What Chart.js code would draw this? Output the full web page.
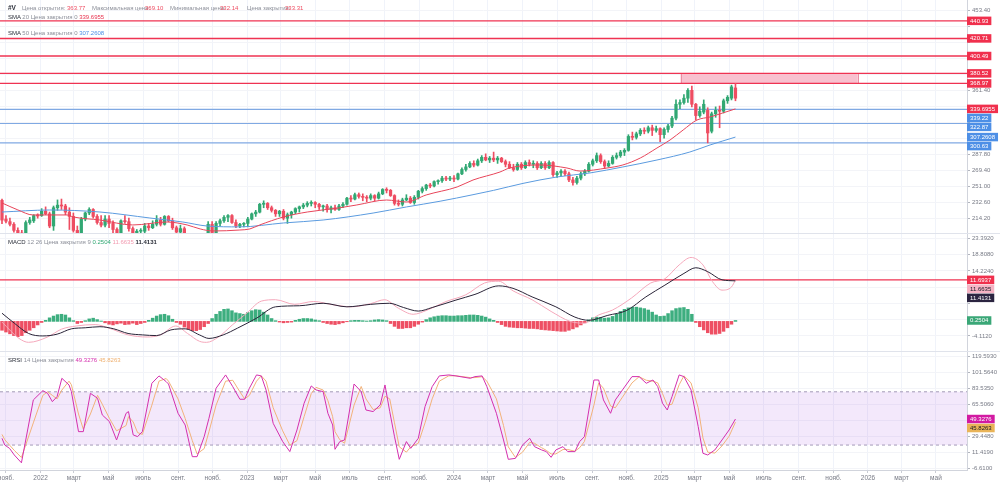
<!DOCTYPE html>
<html><head><meta charset="utf-8">
<script src="https://cdn.jsdelivr.net/npm/chart.js@4.4.1/dist/chart.umd.min.js"></script>
<style>
html,body{margin:0;padding:0;background:#fff;width:1000px;height:483px;overflow:hidden;font-family:"Liberation Sans",Arial,sans-serif;}
.pane{position:absolute;left:0;width:1000px;}
canvas{display:block;}
.lg{position:absolute;font-size:6px;color:#8c8f99;white-space:pre;line-height:8px;}
.dk{color:#2a2e39;}
.sep{position:absolute;left:0;width:1000px;height:1px;background:#e0e3eb;}
</style></head><body>
<div class="pane" style="top:0;height:233px"><canvas id="c1" width="1000" height="233"></canvas></div>
<div class="pane" style="top:233px;height:118px"><canvas id="c2" width="1000" height="118"></canvas></div>
<div class="pane" style="top:351px;height:132px"><canvas id="c3" width="1000" height="132"></canvas></div>
<div class="sep" style="top:233px"></div>
<div class="sep" style="top:351px"></div>

<div class="lg dk" style="top:4px;left:8px;font-weight:bold;font-size:6.5px">#V</div>
<div class="lg" style="top:4px;left:22px">Цена открытия:</div><div class="lg" style="top:4px;left:67px;color:#ee4d62">363.77</div>
<div class="lg" style="top:4px;left:92px">Максимальная цена:</div><div class="lg" style="top:4px;left:145px;color:#ee4d62">369.10</div>
<div class="lg" style="top:4px;left:170px">Минимальная цена:</div><div class="lg" style="top:4px;left:220px;color:#ee4d62">332.14</div>
<div class="lg" style="top:4px;left:247px">Цена закрытия:</div><div class="lg" style="top:4px;left:285px;color:#ee4d62">333.31</div>
<div class="lg" style="top:13px;left:8px"><span class="dk">SMA</span> 20 Цена закрытия 0 <span style="color:#e8334f">339.6955</span></div>
<div class="lg" style="top:29px;left:8px"><span class="dk">SMA</span> 50 Цена закрытия 0 <span style="color:#4d8fe6">307.2608</span></div>
<div class="lg" style="top:238px;left:8px"><span class="dk">MACD</span> 12 26 Цена закрытия 9 <span style="color:#31a873">0.2504</span> <span style="color:#f29ab0">11.6635</span> <span class="dk" style="font-weight:bold">11.4131</span></div>
<div class="lg" style="top:356px;left:8px"><span class="dk">SRSI</span> 14 Цена закрытия <span style="color:#d42fae">49.3276</span> <span style="color:#efb070">45.8263</span></div>

<script>
// ---------- DATA ----------
const firstWeek = '2021-10-25';   // week index 0 (weekly candles)
const opens = [
234.5,213,210,207,200,197,193,209,211,217,
217,222,219,205,226,229,228,221,216,200,
194,213,220,224,216,209,206,213,208,201,
196,211,210,202,190,199,199,205,203,207,
212,207,216,211,203,198,202,190,182,178,
180,175,190,207,193,208,211,215,217,209,
205,207,208,213,219,221,230,231,226,223,
219,222,214,218,221,225,227,229,231,232,
230,227,228,224,226,224,228,230,237,236,
241,239,238,237,240,237,242,247,246,240,
231,230,235,237,232,238,245,248,252,251,
256,257,260,259,260,259,265,270,273,277,
275,280,284,281,283,281,283,279,276,272,
270,276,272,278,276,277,272,277,272,278,
264,266,268,265,258,255,260,265,268,276,
280,286,279,274,277,284,286,290,292,308,
307,311,315,314,318,315,317,310,316,320,
329,345,347,352,361,345,332,336,338,314,
334,338,337,349,352,363.77];
const highs = [
236,217,214,209,203,200,211,215,218,219,
225,227,221,228,235,236,230,226,220,205,
215,221,226,225,218,217,217,217,211,203,
212,217,214,204,201,202,208,208,211,217,
215,217,217,214,205,206,204,192,186,188,
183,191,210,210,210,213,217,218,218,212,
208,209,215,220,223,231,234,232,228,224,
223,224,220,222,226,228,231,233,234,233,
231,229,230,228,229,230,232,238,240,243,
243,242,240,242,241,244,248,249,247,241,
235,237,241,239,240,246,250,253,254,257,
258,262,262,262,263,266,272,276,279,280,
282,286,288,285,290,285,284,281,279,276,
278,278,280,281,280,279,279,279,280,279,
268,270,270,267,261,262,267,270,278,282,
289,288,281,280,286,289,292,294,310,313,
313,317,318,320,321,320,318,318,322,331,
350,350,356,363,366,346,342,350,341,336,
342,343,351,355,367,369.1];
const lows = [
207.6,208.5,205,198,194,186,192,207,209,214,
216,218,203,200,223,224,218,201,198,186,
193,211,218,214,207,204,204,203,190,185,
194,208,199,186,188,193,197,200,202,205,
205,206,210,201,196,196,188,180,177,176,
174,174,187,191,190,205,209,210,208,203,
203,204,204,212,216,220,226,224,221,216,
216,212,208,214,219,221,225,227,228,226,
224,222,221,220,223,223,226,229,233,235,
237,234,233,235,234,236,241,243,239,229,
228,228,234,231,230,236,243,246,249,250,
253,255,257,257,256,258,264,268,272,273,
274,278,280,278,279,277,278,273,271,268,
269,270,271,274,272,270,271,270,271,262,
261,263,263,256,252,253,258,263,267,274,
278,277,271,273,276,282,284,286,291,304,
305,309,311,312,309,313,302,306,313,318,
327,340,345,347,342,327,330,334,300.6,312,
330,318,335,346,350,349];
const closes = [
211.8,210.5,207,200,196,192,209,212,217,216.5,
222,219,205,226,229,228,221,216,200,194,
213,220,224,216,209,206,213,208,201,196,
211,210,202,190,199,199.5,205,203,207,212,
207,216,211,203,198,202,190,182,178,180,
175,190,207,193,208,211,215,217,209,205,
207,207.8,213,219,221,230,231,226,223,219,
222,214,218,221,225,227,229,231,232,230,
227,228,224,226,224,228,230,237,236,241,
239,238,237,240,237,242,247,246,240,231,
230,235,237,232,238,245,248,252,251,256,
257,260,259,260,259,265,270,273,277,275,
280,284,281,283,281,283,279,276,272,270,
276,272,278,276,277,272,277,272,278,264,
266,268,265,258,255,260,265,268,276,280,
286,279,274,277,284,286,290,292,308,307,
311,315,314,318,315,317,310,316,320,329,
345,347,352,361,345,332,337,345,312,334,
338,337,349,353,365,352];

const sma20Weeks = [0,4,7.8,12,16.4,18,24.7,33,41.6,46.7,50,53.2,60,62.5,65,71,77,85,89.5,97,102,107,114.8,118.8,125.6,128,135.7,142.5,145.8,152.6,156.6,161,165.2,168.5,171.8,175.3,178.6,181.8,185];
const sma20 = [231.5,223.5,217.7,217.7,217.7,215.4,211.9,206.2,209.6,206.2,201.6,199.3,200.4,201.6,206.2,215.4,221.1,225.8,229.2,234.9,232.6,240.7,249.9,257.9,267.1,271.7,275.2,271.7,268.2,271.7,275.2,283.2,294.7,303.9,315.4,326.9,330.4,335,339.6955];
const sma50Weeks = [0,12,24.7,37.3,45.6,51.7,60,71,81,93.6,102,110.5,118.8,124,131.4,140,148.3,156.6,165.2,173.5,178.6,185];
const sma50 = [221.1,223.4,221.1,214.2,209.6,205.0,204.0,208.5,211.9,219.9,226.9,233.5,241,246,254,261.4,266,272.9,280.9,290.1,298.2,307.2608];

const redLevels = [440.93,420.71,400.49,380.52,368.97];
const blueLevels = [339.22,322.87,300.63];
const zoneFrom = '2025-02-04', zoneTo = '2025-12-14', zoneLow = 368.97, zoneHigh = 380.52;

const macdHist = [
-2.5,-3.0,-3.5,-4.0,-4.3,-4.0,-3.2,-2.5,-1.8,-1.0,
-0.3,0.3,1.0,1.5,1.9,2.0,1.8,1.0,0.2,-0.6,
-0.3,0.2,0.7,0.9,0.5,0.1,-0.4,-0.8,-1.0,-0.7,
-0.5,-0.9,-0.8,-0.5,-0.9,-0.6,-0.3,0.3,0.9,1.5,
1.9,2.0,1.6,0.6,-0.3,-0.8,-1.6,-2.2,-2.6,-2.6,
-2.3,-1.5,-0.6,0.8,2.0,2.8,3.4,3.5,3.0,2.4,
2.2,2.0,2.5,3.0,3.3,3.2,2.6,1.8,0.8,0.2,
-0.2,-0.4,-0.3,-0.2,0.3,0.6,0.8,0.8,0.7,0.4,
0.2,-0.3,-0.6,-0.8,-0.9,-0.7,-0.4,-0.1,0.2,0.3,
0.3,0.2,0.1,0.2,0.4,0.5,0.4,0.2,-0.6,-1.4,
-2.0,-2.0,-1.8,-1.8,-1.4,-0.8,-0.2,0.5,1.0,1.3,
1.5,1.6,1.6,1.5,1.5,1.6,1.6,1.7,1.8,1.8,
1.7,1.5,1.2,0.7,0.3,-0.3,-0.9,-1.4,-1.6,-1.7,
-1.8,-1.8,-1.9,-2.0,-2.0,-2.1,-2.3,-2.4,-2.5,-2.6,
-2.7,-2.8,-2.8,-2.5,-2.1,-1.6,-1.0,-0.4,0.4,1.0,
1.2,1.1,0.9,1.0,1.4,2.0,2.8,3.4,3.8,4.0,
4.0,3.8,3.6,3.2,2.6,1.8,1.4,1.5,2.2,3.0,
3.6,3.8,3.9,3.4,2.0,-0.3,-1.5,-2.4,-3.2,-3.6,
-3.6,-3.4,-2.8,-1.8,-0.8,0.2504];
const macdWeeks = [0,4.3,6.7,11.5,15,18.7,23.5,27,31.8,36.6,40,43.8,46.8,49.8,51.6,54.6,58.2,61.8,65.4,69,73.8,78.6,83.4,88.1,93,96.5,100,103.7,107.3,112,117,121.7,125.3,128.9,133.7,138.5,143.3,146.8,150.5,154,158.8,163.6,167.2,170.8,173.8,176.8,179.2,181.6,184,185];
const macdLine = [-0.2,-4.8,-5.9,-4.4,-2.2,-1.3,-0.9,-1.9,-3.8,-4.4,-3.8,-1.3,-3.4,-5.6,-5.9,-4.4,-0.9,2.4,5.7,6.1,4.8,5.6,4.7,4.1,5.0,6.1,3.7,2.0,3.2,5.6,7.5,10.8,11.3,8.6,6.1,2.8,0,-0.5,1.8,3.2,6.6,10.8,12,15.9,18.0,15.9,11.2,8.8,9.7,11.6635];
const signalWeeks = [0,3.1,6.7,10.3,13.9,17.5,21,24.7,28.2,31.8,35.4,39,42.6,46.2,49.8,52.2,55.8,59.4,64.2,69,75,81,87,93,97.7,101.3,105,108.5,114.5,119.3,125.3,128.9,133.7,139.7,144.5,148,152.8,157.6,162.4,167.2,172,175,178,181.6,185];
const signalLine = [2.3,-0.5,-3.4,-4.1,-3.6,-2.1,-1.8,-1.5,-2.1,-3.4,-3.8,-4.0,-2.4,-2.1,-3.8,-4.8,-3.8,-1.9,0.9,4.1,4.4,5.1,4.1,4.8,5.1,3.9,2.9,3.9,6.0,7.6,10.0,9.3,6.9,4.1,1.2,0.3,1.7,3.1,6.9,10.2,13.5,15.1,14.0,11.7,11.4131];
const macdLevel = 11.6937;

const srsiWeeks = [
0,0.7,1.9,3.1,4.9,7.9,10.3,11.5,12.7,13.9,
15.1,16.9,17.5,19.3,20.5,22.3,24.1,25.3,27.1,28.9,
31.3,31.9,33.1,34.2,35.4,37.8,39.6,41.4,42,44.4,
46.2,48,49.2,51,52.2,54,56.4,58.2,60,61.2,
62.4,64.2,65.4,66.6,68.4,70.8,72.6,74.4,76.2,78,
79.2,81,82.2,83.4,84,85.2,86.4,88.8,90.6,91.8,
93.6,95.4,96.6,97.8,99,100.2,102,103.1,105,106.7,
108.5,110.3,112.7,114.5,118.1,119.3,121.1,122.3,124.7,126.5,
127.7,129.5,131.3,133.1,134.3,136.1,137.3,138.5,139.7,141.5,
142.7,144.5,145.7,146.9,149.3,150.5,151.7,153.5,154.7,156.5,
158.9,160.7,162.5,164.2,165.4,166.6,167.8,169,170.8,172,
173.8,175.6,176.8,178,179.8,181.6,183.4,185];
const srsiK = [
27.6,20,16.3,8.8,0,70.8,81.3,78.3,68.9,74.6,
95.2,87.7,80.2,35.1,35.1,78.3,72.7,53.9,46.4,25.7,
55.8,57.7,31.4,29.5,35.1,89.6,97.9,91.5,88.8,55.8,
42.6,6.9,6.9,29.5,50.2,84,99,85.8,71.6,71.6,
84,99,97.9,82.1,44.5,23.9,12.6,37,67.1,86.6,
82.1,80.2,55.8,42.6,15.2,23.9,25.7,88.8,80.2,59.5,
57.7,65.2,87.7,57.7,29.5,3.9,23.9,16.3,27.6,63.3,
85.8,97.9,99,97.9,95.2,97.1,97.9,85.8,55.8,25.7,
3.9,5,20.1,27.6,18.2,14.5,12.6,6.2,14.5,18.2,
12.6,12.6,23.9,29.5,93.3,93.3,70.8,55.8,70.8,82.1,
97.1,97.1,89.6,93.3,85.8,67.1,59.5,74.6,99,97.1,
82.1,40.8,10.7,8.8,14.5,25.7,37,49.3276];
const srsiD = [
32,26,20,14,6,45,76,80,76,72,
82,92,88,55,38,55,76,66,50,36,
42,52,46,34,32,65,92,95,92,72,
50,25,10,16,35,65,92,93,80,72,
76,92,98,92,62,36,20,25,52,78,
85,82,70,52,35,26,22,65,86,72,
60,62,75,72,45,18,12,18,22,45,
72,92,98,98,96,96,97,92,72,42,
18,6,12,23,22,17,14,10,10,15,
15,13,17,24,65,90,84,64,62,74,
90,97,93,92,90,78,65,66,88,98,
90,62,28,12,11,19,30,45.8263];
const srsiUpper = 80, srsiLower = 20;

const xTickLabels = ['нояб.','2022','март','май','июль','сент.','нояб.','2023','март','май','июль','сент.','нояб.','2024','март','май','июль','сент.','нояб.','2025','март','май','июль','сент.','нояб.','2026','март','май'];
const xTickDates = ['2021-11-01','2022-01-01','2022-03-01','2022-05-01','2022-07-01','2022-09-01','2022-11-01','2023-01-01','2023-03-01','2023-05-01','2023-07-01','2023-09-01','2023-11-01','2024-01-01','2024-03-01','2024-05-01','2024-07-01','2024-09-01','2024-11-01','2025-01-01','2025-03-01','2025-05-01','2025-07-01','2025-09-01','2025-11-01','2026-01-01','2026-03-01','2026-05-01'];

const priceTicks = [214.2,232.6,251.0,269.4,287.8,306.2,324.6,343.0,361.4,379.8,398.2,416.6,435.0,453.4];
const priceTicksShown = [214.2,232.6,251.0,269.4,287.8,361.4,453.4];
const macdTicks = [-4.112,0.472,5.056,9.64,14.224,18.808,23.392];
const macdTicksShown = [-4.112,14.224,18.808,23.392];
const srsiTicks = [-6.61,11.419,29.448,47.477,65.506,83.535,101.564,119.593];
const srsiTicksShown = [-6.61,11.419,29.448,65.506,83.535,101.564,119.593];

// ---------- HELPERS ----------
const FAM = '"Liberation Sans", Arial, sans-serif';
const UP = '#31a873', DOWN = '#ee4d62';
const RED = '#f0304d', BLUE = '#4d8fe6';
const DAY = 864e5;
const weekOf = d => (Date.parse(d) - Date.parse(firstWeek)) / (7 * DAY);
const xTickWeeks = xTickDates.map(weekOf);
const X_MIN = -0.504, X_MAX = 243.4;
const pts = (ws, vs) => ws.map((w, k) => ({x: w, y: vs[k]}));
const idx = closes.map((_, i) => i);
const noPad = s => { s.paddingTop = 0; s.paddingBottom = 0; s.paddingLeft = 0; s.paddingRight = 0; };

function xScale(show) {
  return {
    type: 'linear', min: X_MIN, max: X_MAX, offset: false,
    grid: {color: '#f0f3fa', offset: false, drawTicks: show, tickLength: 3, tickColor: '#c9ccd4'},
    border: {display: show, color: '#d1d4dc'},
    ticks: {display: show, autoSkip: false, maxRotation: 0, padding: 1, color: '#787b86',
      font: {size: 6.5, family: FAM}, callback: (v, i) => xTickLabels[i]},
    afterBuildTicks: s => { s.ticks = xTickWeeks.map(v => ({value: v})); },
    afterFit: s => { s.height = show ? 13 : 0; noPad(s); }
  };
}
function yScale(min, max, ticks, shown, dec) {
  return {
    type: 'linear', position: 'right', min, max,
    grid: {color: '#f3f4f8', tickLength: 3, tickColor: '#b2b5be'},
    border: {color: '#d1d4dc'},
    ticks: {autoSkip: false, padding: 2, color: '#787b86', font: {size: 6, family: FAM},
      callback: v => shown.some(s => Math.abs(s - v) < 1e-6) ? Number(v).toFixed(dec) : ''},
    afterBuildTicks: s => { s.ticks = ticks.map(v => ({value: v})); },
    afterFit: s => { s.width = 33; noPad(s); }
  };
}

const deco = {
  id: 'deco',
  beforeDatasetsDraw(chart, args, o) {
    const {ctx, chartArea: a, scales: {x, y}} = chart;
    ctx.save();
    ctx.beginPath(); ctx.rect(a.left, a.top, a.right - a.left, a.bottom - a.top); ctx.clip();
    if (o.band) {
      const y0 = y.getPixelForValue(o.band.hi), y1 = y.getPixelForValue(o.band.lo);
      ctx.fillStyle = o.band.fill; ctx.fillRect(a.left, y0, a.right - a.left, y1 - y0);
    }
    if (o.zone) {
      const z = o.zone;
      const x0 = x.getPixelForValue(z.w0), x1 = x.getPixelForValue(z.w1);
      const y0 = y.getPixelForValue(z.hi), y1 = y.getPixelForValue(z.lo);
      ctx.fillStyle = z.fill; ctx.fillRect(x0, y0, x1 - x0, y1 - y0);
      ctx.strokeStyle = z.stroke; ctx.lineWidth = 1;
      ctx.strokeRect(Math.round(x0) + 0.5, Math.round(y0) + 0.5, Math.round(x1 - x0), Math.round(y1 - y0));
    }
    (o.lines || []).forEach(l => {
      const py = y.getPixelForValue(l.v);
      ctx.strokeStyle = l.color; ctx.lineWidth = l.width || 1.4; ctx.setLineDash(l.dash || []);
      ctx.beginPath(); ctx.moveTo(a.left, py); ctx.lineTo(a.right, py); ctx.stroke();
    });
    ctx.restore();
  },
  afterDraw(chart, args, o) {
    if (!o.boxes) return;
    const {ctx, chartArea: a, scales: {y}} = chart;
    const list = o.boxes.map(b => Object.assign({}, b, {py: y.getPixelForValue(b.v)})).sort((p, q) => p.py - q.py);
    for (let k = 1; k < list.length; k++) if (list[k].py < list[k - 1].py + 9) list[k].py = list[k - 1].py + 9;
    ctx.save();
    ctx.font = '6px ' + FAM; ctx.textBaseline = 'middle';
    list.forEach(b => {
      const t = b.text || b.v.toFixed(b.dec);
      const w = ctx.measureText(t).width + 6;
      ctx.fillStyle = b.bg; ctx.fillRect(a.right, b.py - 4.25, w, 8.5);
      ctx.fillStyle = b.fg || '#fff'; ctx.fillText(t, a.right + 3, b.py + 0.3);
    });
    ctx.restore();
  }
};

const common = {
  responsive: false, devicePixelRatio: 1, animation: false, events: [],
  layout: {padding: 0, autoPadding: false}
};

// ---------- PRICE PANEL ----------
new Chart(document.getElementById('c1'), {
  type: 'bar',
  data: {datasets: [
    {type: 'line', order: 0, data: pts(sma20Weeks, sma20), borderColor: '#e8455a', borderWidth: 1, pointRadius: 0, cubicInterpolationMode: 'monotone'},
    {type: 'line', order: 1, data: pts(sma50Weeks, sma50), borderColor: '#5b9bdf', borderWidth: 1, pointRadius: 0, cubicInterpolationMode: 'monotone'},
    {order: 2, data: idx.map(i => ({x: i, y: [opens[i], closes[i]]})), backgroundColor: idx.map(i => closes[i] >= opens[i] ? UP : DOWN),
      barThickness: 2.6, grouped: false, minBarLength: 1},
    {order: 3, data: idx.map(i => ({x: i, y: [lows[i], highs[i]]})), backgroundColor: idx.map(i => closes[i] >= opens[i] ? UP : DOWN),
      barThickness: 1, grouped: false}
  ]},
  options: Object.assign({}, common, {
    scales: {x: xScale(false), y: yScale(196.96, 464.9, priceTicks, priceTicksShown, 2)},
    plugins: {legend: {display: false}, tooltip: {enabled: false},
      deco: {
        zone: {w0: weekOf(zoneFrom), w1: weekOf(zoneTo), lo: zoneLow, hi: zoneHigh, fill: '#f8c1cf', stroke: '#eb8ea3'},
        lines: redLevels.map(v => ({v, color: '#ef3352'})).concat(blueLevels.map(v => ({v, color: '#80a9e3', width: 1.2}))),
        boxes: redLevels.map(v => ({v, dec: 2, bg: RED}))
          .concat([{v: sma20[sma20.length - 1], dec: 4, bg: RED}])
          .concat(blueLevels.map(v => ({v, dec: 2, bg: BLUE})))
          .concat([{v: sma50[sma50.length - 1], dec: 4, bg: BLUE}])
      }}
  }),
  plugins: [deco]
});

// ---------- MACD PANEL ----------
new Chart(document.getElementById('c2'), {
  type: 'bar',
  data: {datasets: [
    {type: 'line', order: 0, data: pts(signalWeeks, signalLine), borderColor: '#2a2438', borderWidth: 1, pointRadius: 0, cubicInterpolationMode: 'monotone'},
    {type: 'line', order: 1, data: pts(macdWeeks, macdLine), borderColor: '#f5a8bb', borderWidth: 1, pointRadius: 0, cubicInterpolationMode: 'monotone'},
    {order: 2, data: idx.map(i => ({x: i, y: macdHist[i]})), backgroundColor: macdHist.map(v => v >= 0 ? '#3dae7f' : '#ee4f63'),
      barThickness: 2.8, grouped: false, base: 0}
  ]},
  options: Object.assign({}, common, {
    scales: {x: xScale(false), y: yScale(-8.338, 24.884, macdTicks, macdTicksShown, 4)},
    plugins: {legend: {display: false}, tooltip: {enabled: false},
      deco: {
        lines: [{v: macdLevel, color: '#ef3352'}],
        boxes: [
          {v: macdLevel, dec: 4, bg: RED},
          {v: macdLine[macdLine.length - 1], dec: 4, bg: '#f6b3c4', fg: '#131722'},
          {v: signalLine[signalLine.length - 1], dec: 4, bg: '#2b2440'},
          {v: macdHist[macdHist.length - 1], dec: 4, bg: '#3aa777'}
        ]
      }}
  }),
  plugins: [deco]
});

// ---------- STOCH RSI PANEL ----------
new Chart(document.getElementById('c3'), {
  type: 'line',
  data: {datasets: [
    {data: pts(srsiWeeks, srsiK), borderColor: '#d42fae', borderWidth: 1, pointRadius: 0, tension: 0},
    {data: pts(srsiWeeks, srsiD), borderColor: '#f2b27a', borderWidth: 1, pointRadius: 0, tension: 0}
  ]},
  options: Object.assign({}, common, {
    scales: {x: xScale(true), y: yScale(-8.11, 125.97, srsiTicks, srsiTicksShown, 4)},
    plugins: {legend: {display: false}, tooltip: {enabled: false},
      deco: {
        band: {lo: srsiLower, hi: srsiUpper, fill: 'rgba(170,90,230,0.14)'},
        lines: [{v: srsiUpper, color: '#a49ab8', dash: [3, 3], width: 1}, {v: srsiLower, color: '#a49ab8', dash: [3, 3], width: 1}],
        boxes: [
          {v: srsiK[srsiK.length - 1], dec: 4, bg: '#d21aa2'},
          {v: srsiD[srsiD.length - 1], dec: 4, bg: '#e9b458', fg: '#131722'}
        ]
      }}
  }),
  plugins: [deco]
});
</script>
</body></html>
